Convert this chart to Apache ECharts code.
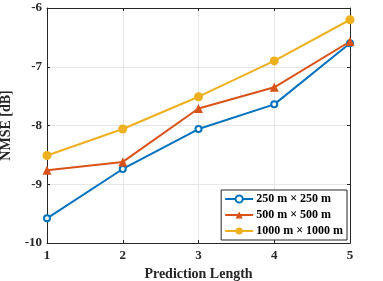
<!DOCTYPE html>
<html><head><meta charset="utf-8">
<script src="https://cdn.jsdelivr.net/npm/echarts@6/dist/echarts.min.js"></script>
<style>html,body{margin:0;padding:0;background:#fff}#c{width:383px;height:281px}</style>
</head><body><div id="c"></div>
<script>
const categories = [1, 2, 3, 4, 5];
const s250 = [-9.58, -8.74, -8.06, -7.64, -6.60];
const s500 = [-8.76, -8.62, -7.71, -7.35, -6.57];
const s1000 = [-8.51, -8.06, -7.51, -6.90, -6.20];
const names = ['250 m \u00d7 250 m', '500 m \u00d7 500 m', '1000 m \u00d7 1000 m'];
const colors = ['#0072BD', '#D95319', '#EDB120'];
const font = 'Liberation Serif';
const chart = echarts.init(document.getElementById('c'));
const pair = a => a.map((v, i) => [categories[i], v]);
const axisCommon = {
  axisLine: {show: true, lineStyle: {color: '#262626', width: 1}},
  axisTick: {show: true, inside: true, length: 3, lineStyle: {color: '#262626'}},
};
chart.setOption({
  animation: false,
  grid: {left: 47, right: 33, top: 8, bottom: 38, containLabel: false, outerBoundsMode: 'none'},
  xAxis: [
    Object.assign({type: 'value', min: 1, max: 5, interval: 1, position: 'bottom',
      name: 'Prediction Length', nameLocation: 'middle', nameGap: 23,
      nameTextStyle: {fontFamily: font, fontWeight: 'bold', fontSize: 14, color: '#262626'},
      axisLabel: {fontFamily: font, fontWeight: 'bold', fontSize: 13, color: '#262626', margin: 6},
      splitLine: {show: true, lineStyle: {color: '#e6e6e6'}}}, axisCommon),
    Object.assign({type: 'value', min: 1, max: 5, interval: 1, position: 'top',
      axisLabel: {show: false}, splitLine: {show: false}}, axisCommon)
  ],
  yAxis: [
    Object.assign({type: 'value', min: -10, max: -6, interval: 1, position: 'left',
      name: 'NMSE [dB]', nameLocation: 'middle', nameGap: 29,
      nameTextStyle: {fontFamily: font, fontWeight: 'bold', fontSize: 14, color: '#262626'},
      axisLabel: {fontFamily: font, fontWeight: 'bold', fontSize: 13, color: '#262626', margin: 5},
      splitLine: {show: true, lineStyle: {color: '#e6e6e6'}}}, axisCommon),
    Object.assign({type: 'value', min: -10, max: -6, interval: 1, position: 'right',
      axisLabel: {show: false}, splitLine: {show: false}}, axisCommon)
  ],
  legend: {
    right: 36, bottom: 41, orient: 'vertical',
    backgroundColor: '#fff', borderColor: '#262626', borderWidth: 1, borderRadius: 0,
    padding: [3, 4, 3, 3], itemGap: 4, itemWidth: 28, itemHeight: 9,
    textStyle: {fontFamily: font, fontWeight: 'bold', fontSize: 12, color: '#000', padding: [0, 0, 0, -2]},
    data: names
  },
  series: [
    {name: names[0], type: 'line', data: pair(s250), symbol: 'emptyCircle', symbolSize: 6,
      itemStyle: {color: colors[0], borderWidth: 1.3}, lineStyle: {color: colors[0], width: 2}},
    {name: names[1], type: 'line', data: pair(s500), symbol: 'triangle', symbolSize: 9,
      itemStyle: {color: colors[1]}, lineStyle: {color: colors[1], width: 2}},
    {name: names[2], type: 'line', data: pair(s1000), symbol: 'circle', symbolSize: 9,
      itemStyle: {color: colors[2]}, lineStyle: {color: colors[2], width: 2}}
  ]
});
</script></body></html>
